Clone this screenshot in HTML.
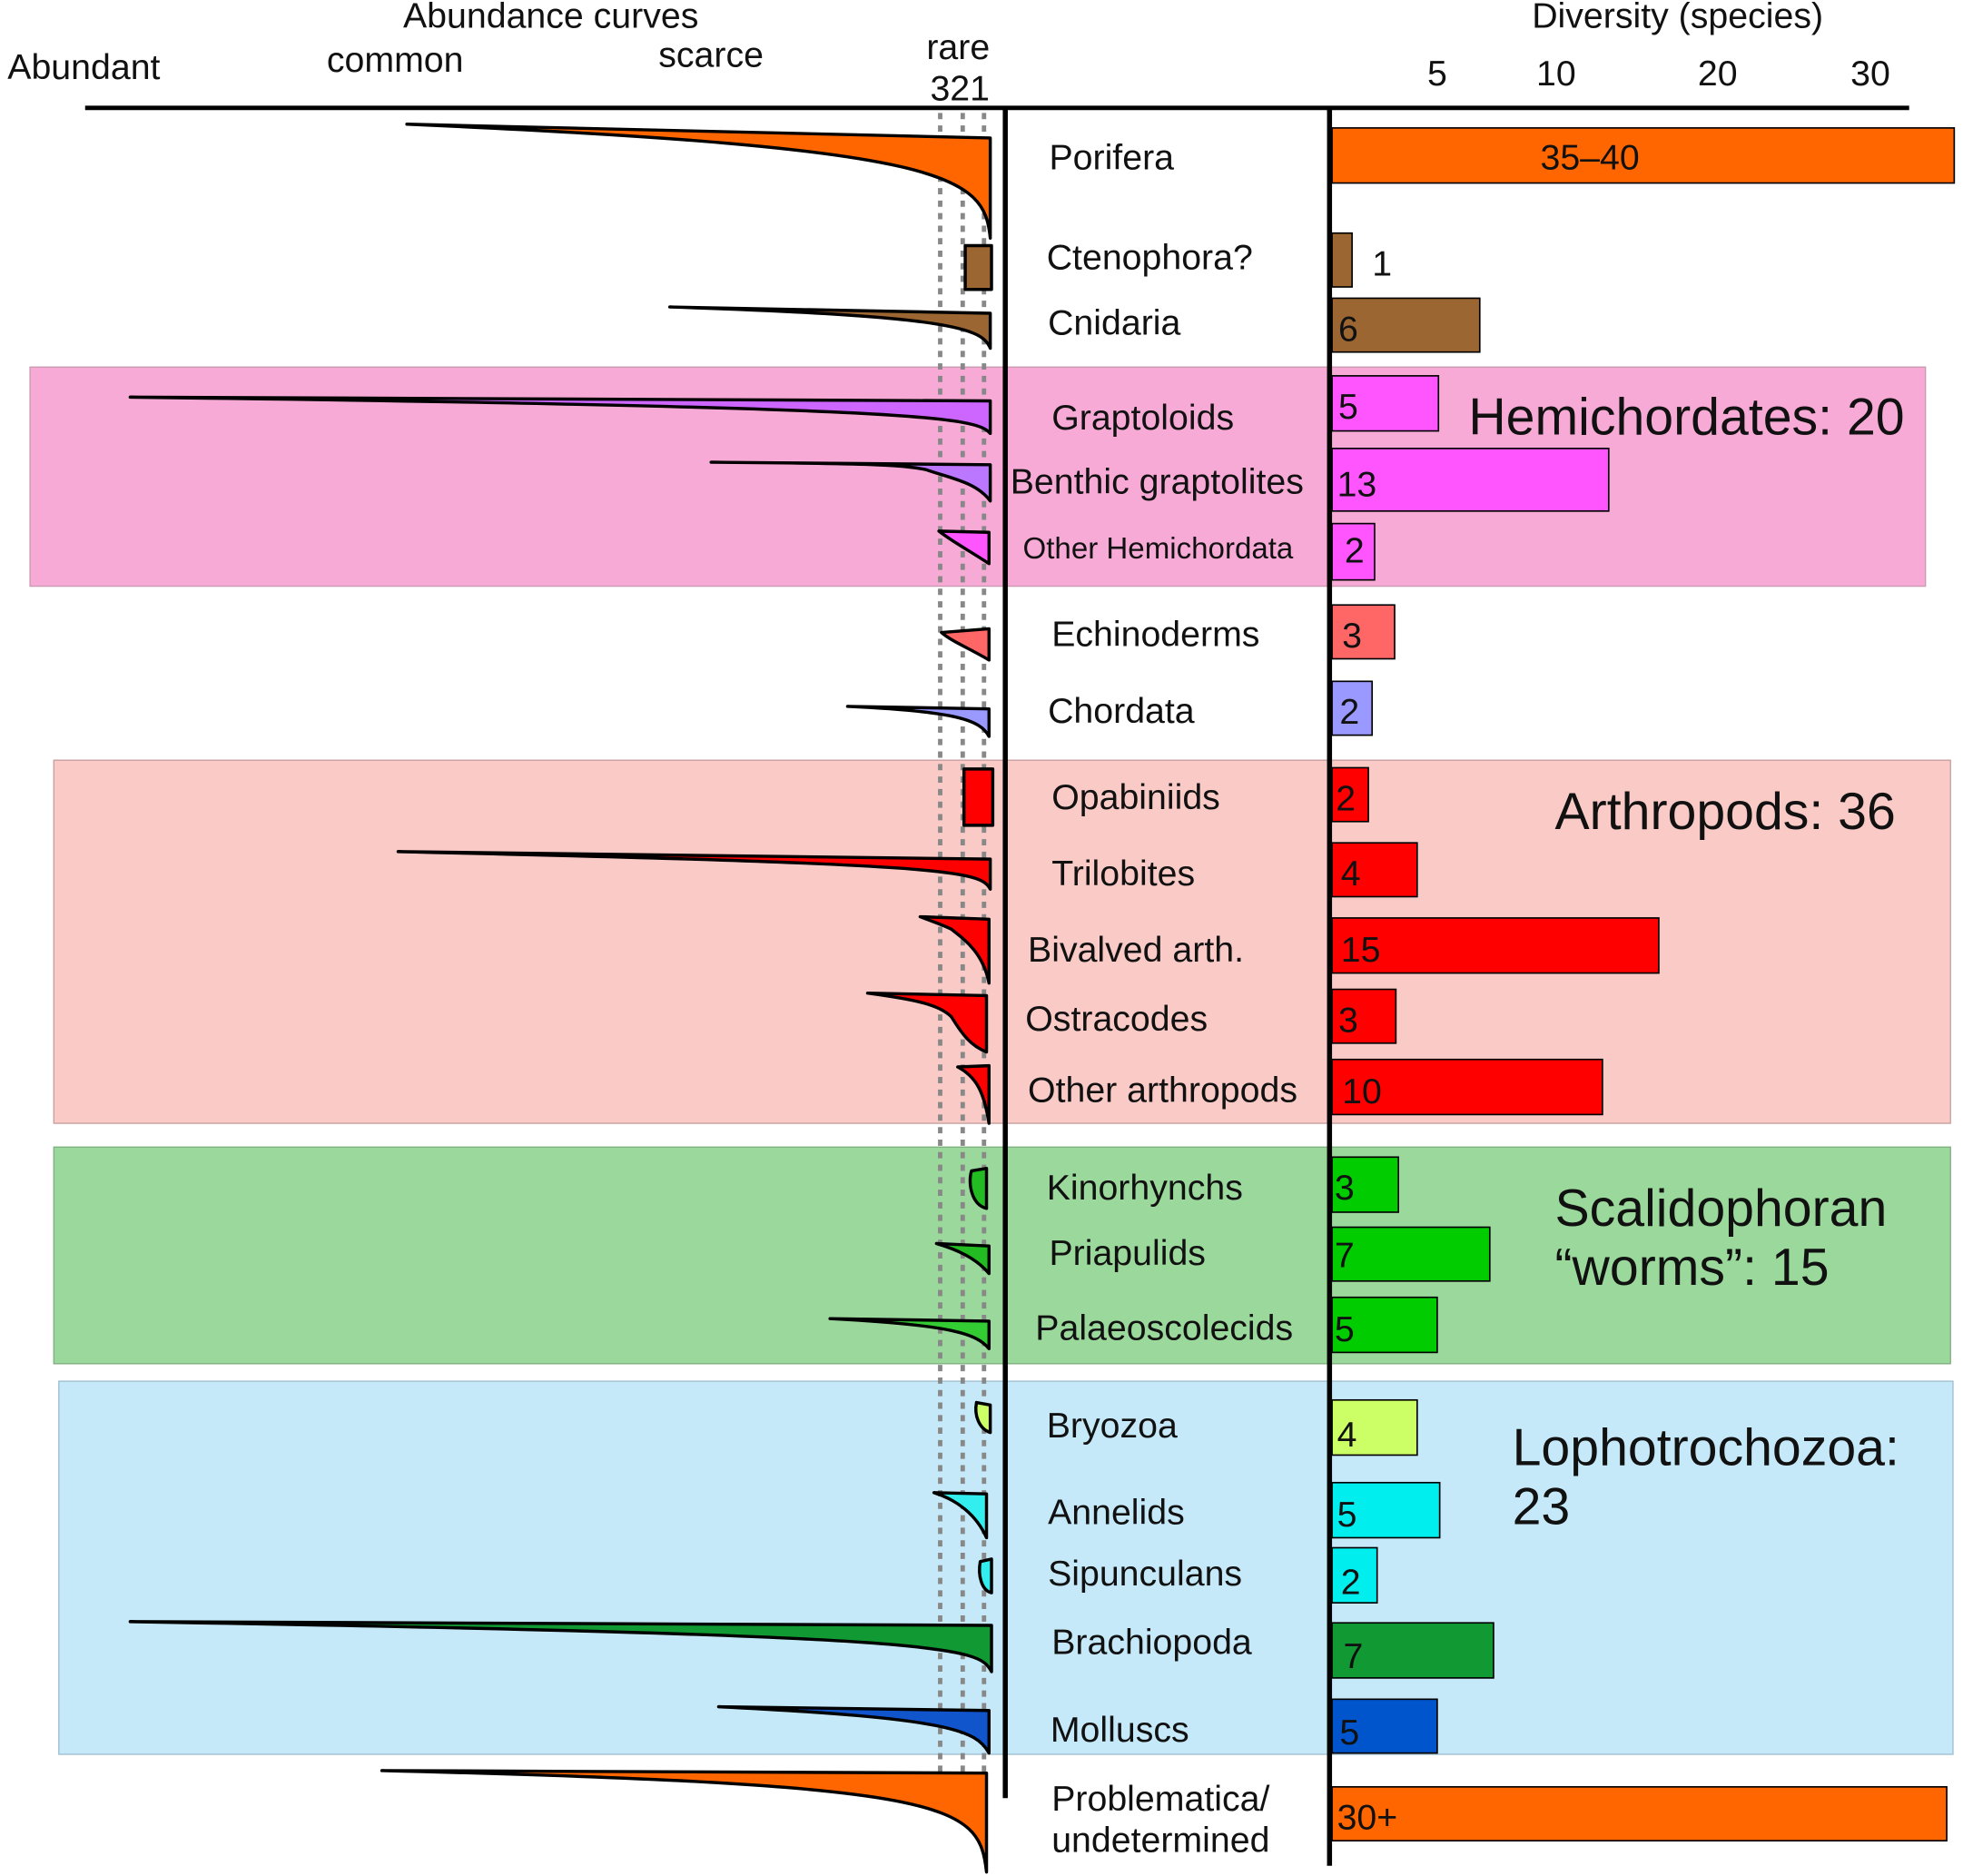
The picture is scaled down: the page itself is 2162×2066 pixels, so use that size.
<!DOCTYPE html>
<html><head><meta charset="utf-8"><style>body{margin:0;background:#fff}svg{display:block}text{font-family:"Liberation Sans",Arial,sans-serif;fill:#111}</style></head><body>
<svg width="2162" height="2066" viewBox="0 0 1568 1498" xmlns="http://www.w3.org/2000/svg">
<rect x="24" y="293" width="1514" height="175" fill="#f8aad6" stroke="#c89ab0"/>
<rect x="43" y="607" width="1515" height="290" fill="#f9cac6" stroke="#c8a0a0"/>
<rect x="43" y="916" width="1515" height="173" fill="#9bd89b" stroke="#80b080"/>
<rect x="47" y="1103" width="1513" height="298" fill="#c5e9f9" stroke="#a0c0d0"/>
<g stroke="#888" stroke-width="3.5" stroke-dasharray="5,5">
<line x1="751" y1="90" x2="751" y2="1435"/><line x1="769" y1="90" x2="769" y2="1435"/><line x1="786" y1="90" x2="786" y2="1435"/></g>
<line x1="68" y1="86" x2="1525" y2="86" stroke="#000" stroke-width="3.5"/>
<line x1="803" y1="86" x2="803" y2="1436" stroke="#000" stroke-width="4"/>
<line x1="1062" y1="86" x2="1062" y2="1490" stroke="#000" stroke-width="4"/>
<g font-size="28.5">
<text x="440" y="22" text-anchor="middle">Abundance curves</text>
<text x="6" y="63">Abundant</text><text x="261" y="57">common</text><text x="526" y="53">scarce</text>
<text x="740" y="47">rare</text><text x="743" y="80">321</text>
<text x="1340" y="22" text-anchor="middle">Diversity (species)</text>
<text x="1148" y="68" text-anchor="middle">5</text><text x="1243" y="68" text-anchor="middle">10</text><text x="1372" y="68" text-anchor="middle">20</text><text x="1494" y="68" text-anchor="middle">30</text>
</g>
<g stroke="#000" stroke-width="2.5" stroke-linejoin="round">
<path d="M325,99 L791,110 L791,190 C786,140 760,118 325,99Z" fill="#ff6600"/>
<rect x="771" y="196" width="21" height="35" fill="#9c6633"/>
<path d="M535,245 L791,250 L791,278 C785,262 760,252 535,245Z" fill="#9c6633"/>
<path d="M104,317 L791,320 L791,346 C780,333 740,325 104,317Z" fill="#cc66ff"/>
<path d="M568,369 L791,371 L791,400 C780,385 760,382 740,375 C720,371 700,370 568,369Z" fill="#bb77ff"/>
<path d="M750,424 L790,425 L790,450 C775,440 760,432 750,424Z" fill="#ff55ff"/>
<path d="M752,505 L790,502 L790,527 C775,518 760,512 752,505Z" fill="#ff6666"/>
<path d="M677,564 L790,566 L790,588 C783,575 765,568 677,564Z" fill="#9999ff"/>
<rect x="770" y="614" width="23" height="45" fill="#ff0000"/>
<path d="M318,680 L791,686 L791,710 C783,695 760,690 318,680Z" fill="#ff0000"/>
<path d="M735,732 L790,734 L790,785 C785,760 770,750 760,742 C752,738 745,736 735,732Z" fill="#ff0000"/>
<path d="M693,793 L788,795 L788,840 C775,835 768,825 760,812 C750,802 730,798 693,793Z" fill="#ff0000"/>
<path d="M765,852 L790,851 L790,897 C786,872 780,860 765,852Z" fill="#ff0000"/>
<path d="M788,933 L788,965 C776,962 773,945 776,935Z" fill="#22bb22"/>
<path d="M748,993 L790,995 L790,1017 C780,1005 765,998 748,993Z" fill="#22bb22"/>
<path d="M663,1053 L790,1055 L790,1077 C780,1065 760,1058 663,1053Z" fill="#33cc33"/>
<path d="M791,1122 L791,1144 C782,1141 778,1130 780,1120Z" fill="#ccff66"/>
<path d="M746,1192 L788,1193 L788,1228 C780,1210 765,1198 746,1192Z" fill="#33eeee"/>
<path d="M792,1245 L792,1272 C784,1270 781,1258 783,1247Z" fill="#33eeee"/>
<path d="M104,1295 L792,1298 L792,1335 C782,1315 760,1306 104,1295Z" fill="#119933"/>
<path d="M574,1363 L790,1366 L790,1400 C780,1382 760,1372 574,1363Z" fill="#1155cc"/>
<path d="M305,1414 L788,1416 L788,1495 C782,1440 760,1425 305,1414Z" fill="#ff6600"/>
</g>
<g stroke="#000" stroke-width="1.2">
<rect x="1064" y="102" width="497" height="44" fill="#ff6600"/>
<rect x="1064" y="186" width="16" height="43" fill="#9c6633"/>
<rect x="1064" y="238" width="118" height="43" fill="#9c6633"/>
<rect x="1064" y="300" width="85" height="44" fill="#ff55ff"/>
<rect x="1064" y="358" width="221" height="50" fill="#ff55ff"/>
<rect x="1064" y="418" width="34" height="45" fill="#ff55ff"/>
<rect x="1064" y="483" width="50" height="43" fill="#ff6666"/>
<rect x="1064" y="544" width="32" height="43" fill="#9999ff"/>
<rect x="1064" y="613" width="29" height="43" fill="#ff0000"/>
<rect x="1064" y="673" width="68" height="43" fill="#ff0000"/>
<rect x="1064" y="733" width="261" height="44" fill="#ff0000"/>
<rect x="1064" y="790" width="51" height="43" fill="#ff0000"/>
<rect x="1064" y="846" width="216" height="44" fill="#ff0000"/>
<rect x="1064" y="924" width="53" height="44" fill="#00cc00"/>
<rect x="1064" y="980" width="126" height="43" fill="#00cc00"/>
<rect x="1064" y="1036" width="84" height="44" fill="#00cc00"/>
<rect x="1064" y="1118" width="68" height="44" fill="#ccff66"/>
<rect x="1064" y="1184" width="86" height="44" fill="#00eeee"/>
<rect x="1064" y="1236" width="36" height="44" fill="#00eeee"/>
<rect x="1064" y="1296" width="129" height="44" fill="#119933"/>
<rect x="1064" y="1357" width="84" height="43" fill="#0055cc"/>
<rect x="1064" y="1427" width="491" height="43" fill="#ff6600"/>
</g>
<g font-size="28.5">
<text x="1270" y="135" text-anchor="middle">35–40</text>
<text x="1096" y="220">1</text>
<text x="1069" y="272">6</text><text x="1069" y="334">5</text><text x="1068" y="396">13</text><text x="1074" y="449">2</text>
<text x="1072" y="517">3</text><text x="1070" y="578">2</text><text x="1067" y="647">2</text><text x="1071" y="707">4</text>
<text x="1071" y="768">15</text><text x="1069" y="824">3</text><text x="1072" y="881">10</text><text x="1066" y="958">3</text>
<text x="1066" y="1012">7</text><text x="1066" y="1071">5</text><text x="1068" y="1155">4</text><text x="1068" y="1219">5</text>
<text x="1071" y="1273">2</text><text x="1073" y="1332">7</text><text x="1070" y="1393">5</text><text x="1068" y="1461">30+</text>
<text x="838" y="135">Porifera</text><text x="836" y="215">Ctenophora?</text><text x="837" y="267">Cnidaria</text>
<text x="840" y="343">Graptoloids</text><text x="807" y="394">Benthic graptolites</text>
<text x="817" y="446" font-size="24">Other Hemichordata</text>
<text x="840" y="516">Echinoderms</text><text x="837" y="577">Chordata</text><text x="840" y="646">Opabiniids</text>
<text x="840" y="707">Trilobites</text><text x="821" y="768">Bivalved arth.</text><text x="819" y="823">Ostracodes</text>
<text x="821" y="880">Other arthropods</text><text x="836" y="958">Kinorhynchs</text><text x="838" y="1010">Priapulids</text>
<text x="827" y="1070">Palaeoscolecids</text><text x="836" y="1148">Bryozoa</text><text x="837" y="1217">Annelids</text>
<text x="837" y="1266">Sipunculans</text><text x="840" y="1321">Brachiopoda</text><text x="839" y="1391">Molluscs</text>
<text x="840" y="1446">Problematica/</text><text x="840" y="1479">undetermined</text>
</g>
<g font-size="41.5">
<text x="1173" y="347">Hemichordates: 20</text>
<text x="1242" y="662">Arthropods: 36</text>
<text x="1242" y="979">Scalidophoran</text><text x="1242" y="1026">“worms”: 15</text>
<text x="1208" y="1170">Lophotrochozoa:</text><text x="1208" y="1217">23</text>
</g>
</svg>
</body></html>
